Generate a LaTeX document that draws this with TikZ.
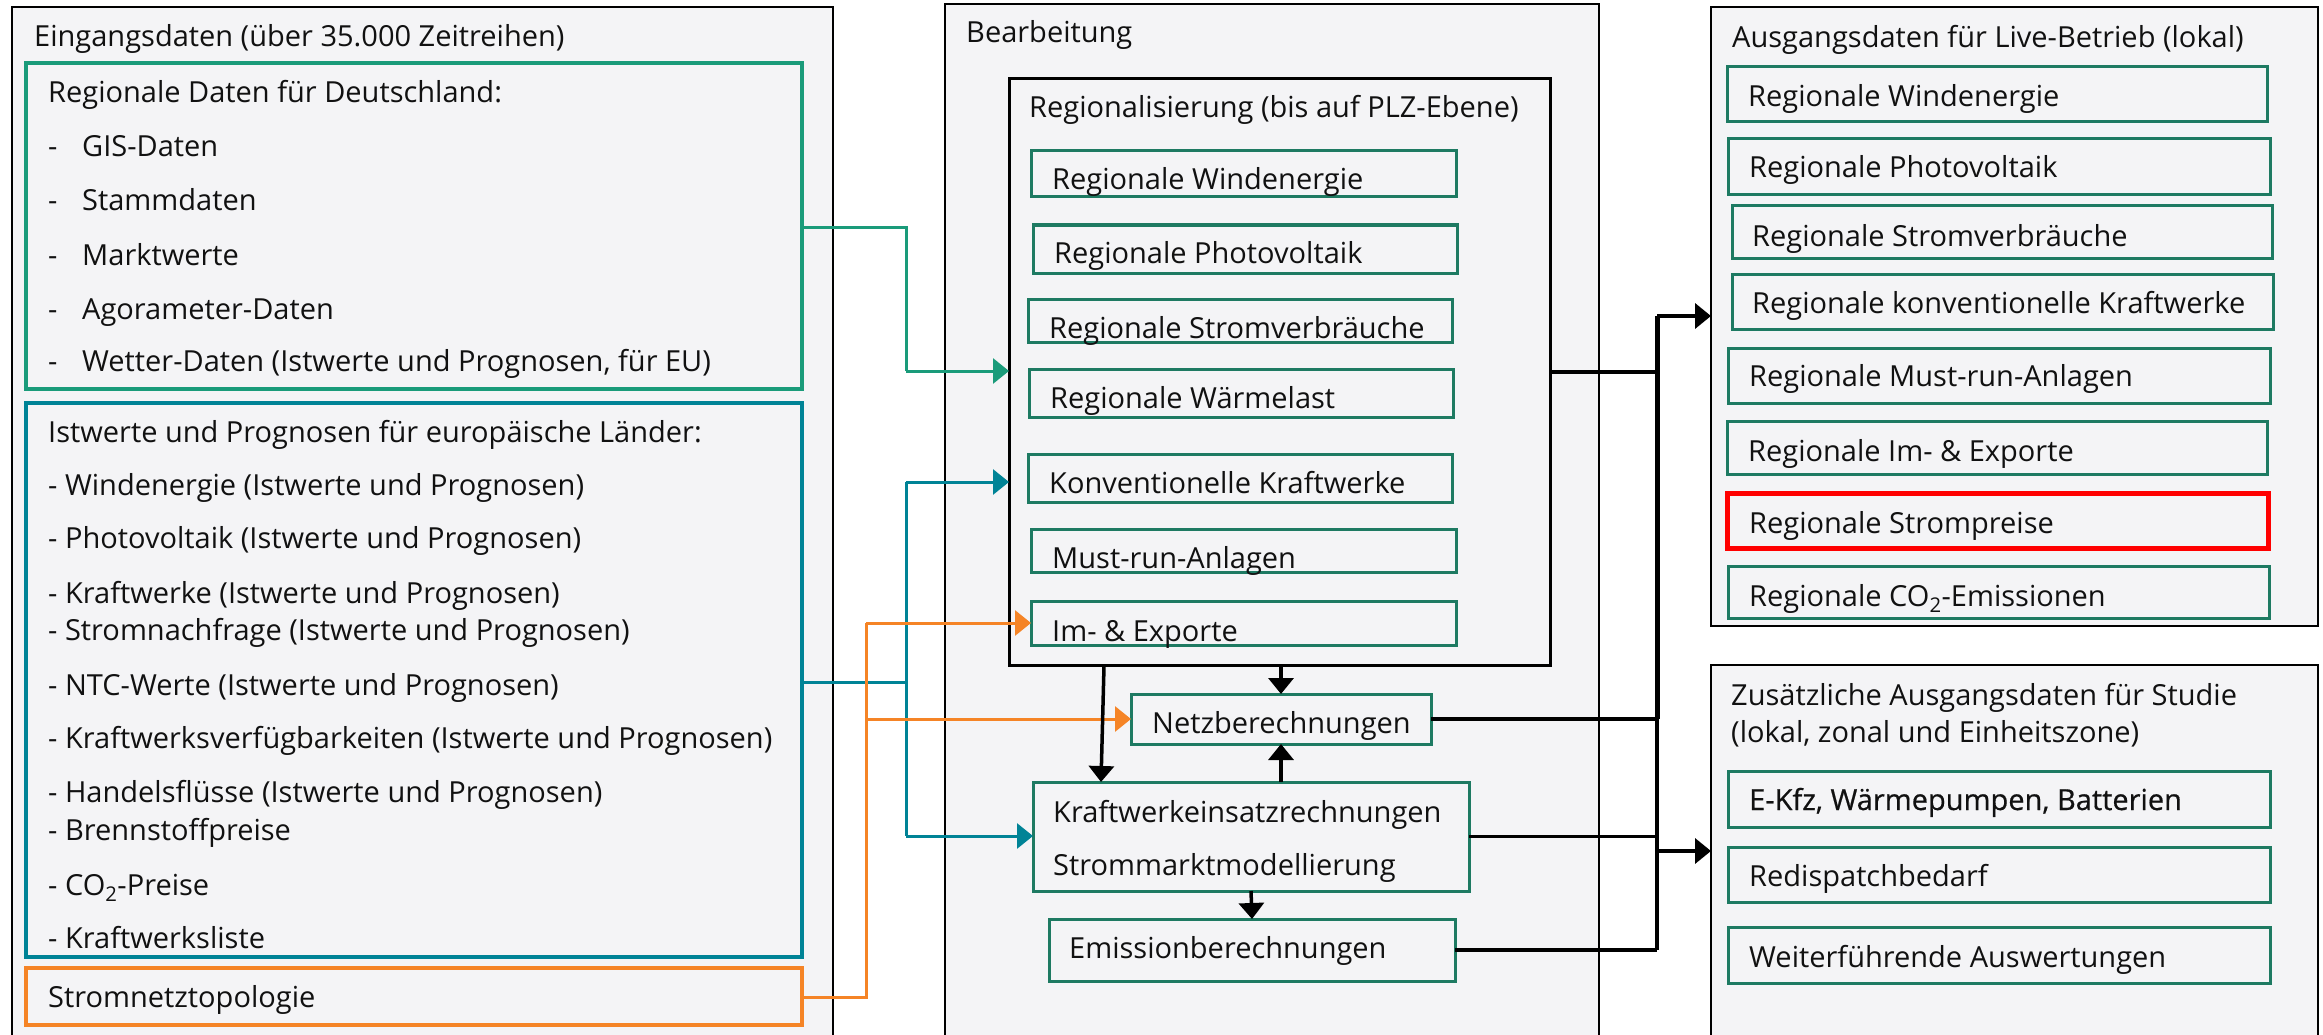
\documentclass[tikz,border=0pt]{standalone}
\usepackage{fontspec}
\setmainfont{Open Sans}
\usetikzlibrary{arrows.meta}
\definecolor{bg}{RGB}{244,244,246}
\definecolor{grpgreen}{RGB}{26,155,122}
\definecolor{grpteal}{RGB}{0,131,150}
\definecolor{grporange}{RGB}{245,132,38}
\definecolor{itemgreen}{RGB}{30,122,98}
\definecolor{txtc}{RGB}{17,17,17}
\newcommand\bx[6]{\node[#6, anchor=north west, minimum width={(#4-#2)*1pt}, minimum height={(#5-#3)*1pt}] (#1) at (#2,#3) {};}
\newcommand\tx[4]{\node[tx] (#1) at (#2,#3) {#4};}
\begin{document}
\begin{tikzpicture}[x=1pt,y=-1pt,
 outerbox/.style={draw=black, line width=2.6pt, fill=bg, inner sep=0pt, outer sep=0pt},
 grpbox/.style={draw=#1, line width=4.5pt, fill=bg, inner sep=0pt, outer sep=0pt},
 itembox/.style={draw=itemgreen, line width=3pt, fill=bg, inner sep=0pt, outer sep=0pt},
 redbox/.style={draw=red, line width=5pt, fill=bg, inner sep=0pt, outer sep=0pt},
 regbox/.style={draw=black, line width=3pt, fill=bg, inner sep=0pt, outer sep=0pt},
 tx/.style={anchor=base west, inner sep=0pt, text=txtc, font=\fontsize{29}{33}\selectfont},
 conn/.style={line width=3pt, draw=#1},
 blk/.style={line width=3.5pt, draw=black},
 arr/.style={-{Triangle[length=16pt,width=25pt]}}]
\useasboundingbox (0,0) rectangle (2323,1035);
\begin{scope}
\clip (0,0) rectangle (2323,1035);
\fill[white] (0,0) rectangle (2323,1035);
% ---------- left column
\bx{inBox}{12}{7}{833}{1060}{outerbox}
\bx{grpDE}{26}{63}{802}{389}{grpbox=grpgreen}
\bx{grpEU}{26}{403}{802}{957}{grpbox=grpteal}
\bx{grpNet}{26}{968}{802}{1025}{grpbox=grporange}
\tx{tIn}{34}{47}{Eingangsdaten (über 35.000 Zeitreihen)}
\tx{tDE}{48}{103}{Regionale Daten für Deutschland:}
\tx{d1}{48}{157}{-}\tx{tGIS}{82}{157}{GIS-Daten}
\tx{d2}{48}{211}{-}\tx{tStamm}{82}{211}{Stammdaten}
\tx{d3}{48}{265}{-}\tx{tMarkt}{82}{265}{Marktwerte}
\tx{d4}{48}{319}{-}\tx{tAgora}{82}{319}{Agorameter-Daten}
\tx{d5}{48}{371}{-}\tx{tWetter}{82}{371}{Wetter-Daten (Istwerte und Prognosen, für EU)}
\tx{tEU}{48}{442}{Istwerte und Prognosen für europäische Länder:}
\tx{e1}{48}{495}{- Windenergie (Istwerte und Prognosen)}
\tx{e2}{48}{548}{- Photovoltaik (Istwerte und Prognosen)}
\tx{e3}{48}{603}{- Kraftwerke (Istwerte und Prognosen)}
\tx{e4}{48}{640}{- Stromnachfrage (Istwerte und Prognosen)}
\tx{e5}{48}{695}{- NTC-Werte (Istwerte und Prognosen)}
\tx{e6}{48}{748}{- Kraftwerksverfügbarkeiten (Istwerte und Prognosen)}
\tx{e7}{48}{802}{- Handelsflüsse (Istwerte und Prognosen)}
\tx{e8}{48}{840}{- Brennstoffpreise}
\tx{e9}{48}{895}{- CO\textsubscript{2}-Preise}
\tx{e10}{48}{948}{- Kraftwerksliste}
\tx{tNet}{48}{1007}{Stromnetztopologie}
% ---------- middle column
\bx{bearb}{945}{4}{1599}{1060}{outerbox}
\bx{regio}{1009}{79}{1550}{665}{regbox}
\bx{rWind}{1031}{151}{1456}{197}{itembox}
\bx{rPV}{1033}{225}{1457}{273}{itembox}
\bx{rStrom}{1028}{299}{1452}{342}{itembox}
\bx{rWaerme}{1029}{369}{1453}{417}{itembox}
\bx{rKonv}{1028}{454}{1452}{502}{itembox}
\bx{rMust}{1031}{529}{1456}{572}{itembox}
\bx{rImEx}{1031}{601}{1456}{645}{itembox}
\bx{netz}{1131}{694}{1431}{744}{itembox}
\bx{kw}{1033}{782}{1469}{891}{itembox}
\bx{emis}{1049}{919}{1455}{981}{itembox}
\tx{tBearb}{966}{43}{Bearbeitung}
\tx{tRegio}{1029}{118}{Regionalisierung (bis auf PLZ-Ebene)}
\tx{trWind}{1052}{190}{Regionale Windenergie}
\tx{trPV}{1054}{263}{Regionale Photovoltaik}
\tx{trStrom}{1049}{338}{Regionale Stromverbräuche}
\tx{trWaerme}{1050}{408}{Regionale Wärmelast}
\tx{trKonv}{1049}{493}{Konventionelle Kraftwerke}
\tx{trMust}{1052}{568}{Must-run-Anlagen}
\tx{trImEx}{1052}{641}{Im- \& Exporte}
\tx{tNetz}{1152}{733}{Netzberechnungen}
\tx{tKw1}{1053}{822}{Kraftwerkeinsatzrechnungen}
\tx{tKw2}{1053}{875}{Strommarktmodellierung}
\tx{tEmis}{1069}{958}{Emissionberechnungen}
% ---------- right column
\bx{ausg}{1711}{7}{2318}{626}{outerbox}
\bx{aWind}{1727}{67}{2267}{122}{itembox}
\bx{aPV}{1728}{139}{2270}{195}{itembox}
\bx{aStrom}{1732}{206}{2272}{258}{itembox}
\bx{aKonv}{1732}{274}{2273}{329}{itembox}
\bx{aMust}{1728}{348}{2270}{403}{itembox}
\bx{aImEx}{1727}{421}{2267}{474}{itembox}
\bx{aPreis}{1727}{493}{2268}{548}{redbox}
\bx{aCO2}{1728}{566}{2269}{618}{itembox}
\tx{tAusg}{1732}{48}{Ausgangsdaten für Live-Betrieb (lokal)}
\tx{taWind}{1748}{107}{Regionale Windenergie}
\tx{taPV}{1749}{178}{Regionale Photovoltaik}
\tx{taStrom}{1752}{246}{Regionale Stromverbräuche}
\tx{taKonv}{1752}{313}{Regionale konventionelle Kraftwerke}
\tx{taMust}{1749}{386}{Regionale Must-run-Anlagen}
\tx{taImEx}{1748}{461}{Regionale Im- \& Exporte}
\tx{taPreis}{1749}{533}{Regionale Strompreise}
\tx{taCO2}{1749}{606}{Regionale CO\textsubscript{2}-Emissionen}
\bx{zus}{1711}{665}{2318}{1060}{outerbox}
\bx{zEkfz}{1728}{771}{2270}{827}{itembox}
\bx{zRedis}{1728}{847}{2270}{902}{itembox}
\bx{zWeiter}{1728}{927}{2270}{983}{itembox}
\tx{tZus1}{1731}{705}{Zusätzliche Ausgangsdaten für Studie}
\tx{tZus2}{1731}{742}{(lokal, zonal und Einheitszone)}
\node[tx, font=\fontsize{29}{33}\selectfont\addfontfeature{FakeBold=0.5}] (tzEkfz) at (1749,810) {E-Kfz, Wärmepumpen, Batterien};
\tx{tzRedis}{1749}{886}{Redispatchbedarf}
\tx{tzWeiter}{1749}{967}{Weiterführende Auswertungen}
% ---------- connector coordinates
\coordinate (g1) at (906,227);
\coordinate (g2) at (906,371);
\coordinate (t1) at (906,682);
\coordinate (t2) at (906,482);
\coordinate (t3) at (906,836);
\coordinate (o1) at (866,997);
\coordinate (o2) at (866,623);
\coordinate (o3) at (866,719);
\coordinate (s1) at (1104,666);
\coordinate (s2) at (1101,782);
\coordinate (b1) at (1657,316);
\coordinate (b2) at (1657,719);
\coordinate (b3) at (1657,851);
\coordinate (b4) at (1657,950);
% green
\draw[conn=grpgreen] (grpDE.east |- g1) -- (g1) -- (g2);
\draw[conn=grpgreen, arr] (g2) -- (regio.west |- g2);
% teal
\draw[conn=grpteal] (grpEU.east |- t1) -- (t1);
\draw[conn=grpteal] (t2) -- (t3);
\draw[conn=grpteal, arr] (t2) -- (regio.west |- t2);
\draw[conn=grpteal, arr] (t3) -- (kw.west |- t3);
% orange
\draw[conn=grporange] (grpNet.east |- o1) -- (o1) -- (o2);
\draw[conn=grporange, arr] (o2) -- (rImEx.west);
\draw[conn=grporange, arr] (o3) -- (netz.west);
% black inside
\draw[blk, arr] (netz.north |- regio.south) -- (netz.north);
\draw[blk, arr] (s1) -- (s2);
\draw[blk, arr] (kw.north -| netz.south) -- (netz.south);
\draw[blk, arr] (kw.south) -- (emis.north);
% black to outputs
\draw[blk] (regio.east) -- (regio.east -| b1);
\draw[blk] (netz.east) -- (b2);
\draw[blk] (kw.east) -- (kw.east -| b3);
\draw[blk] (emis.east) -- (b4);
\draw[line width=5pt] (b1) -- (b2);
\draw[blk] (b2) -- (b4);
\draw[blk, arr] (b1) -- (ausg.west |- b1);
\draw[blk, arr] (b3) -- (zus.west |- b3);
\end{scope}
\end{tikzpicture}
\end{document}
